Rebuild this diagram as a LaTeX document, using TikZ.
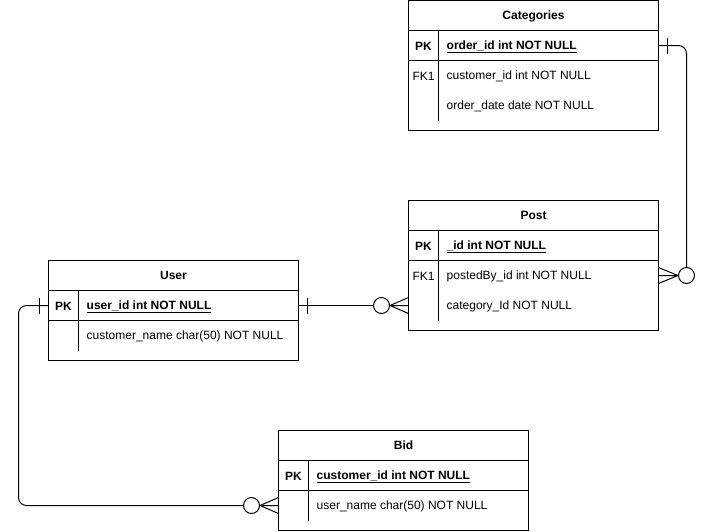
\documentclass[tikz,border=0pt]{standalone}
\usepackage{fontspec}
\setmainfont{Liberation Sans}
\usepackage{tikz}
\usetikzlibrary{positioning, calc}

\tikzset{
  tbltitle/.style={rectangle, draw, line width=1pt, minimum width=250pt, minimum height=30pt,
                   inner sep=0pt, outer sep=0pt, text height=11pt, text depth=2.6pt,
                   font=\fontsize{12}{14}\selectfont\bfseries},
  tblrow/.style={rectangle, draw, line width=1pt, minimum width=250pt, minimum height=30pt,
                 inner sep=0pt, outer sep=0pt},
  keylbl/.style={anchor=center, inner sep=0pt, yshift=-1pt, font=\fontsize{12}{14}\selectfont},
  fieldtxt/.style={anchor=west, inner sep=0pt, yshift=-1pt, font=\fontsize{12}{14}\selectfont},
  zerocirc/.style={circle, draw, line width=1pt, fill=white, minimum size=16pt, inner sep=0pt},
  rel/.style={line width=1pt}
}

\begin{document}
\begin{tikzpicture}[x=1pt, y=-1pt]
        \useasboundingbox (0,0) rectangle (708,531);

        % Tables
        \foreach \id/\title/\x/\y/\h in {cat/Categories/533.5/15.5/70pt, post/Post/533.5/215.5/70pt,
                                         user/User/173.5/275.5/40pt, bid/Bid/403.5/445.5/40pt} {
        \node[tbltitle] (\id) at (\x,\y) {\title};
        \node[tblrow, below=0pt of \id] (\id-pk) {};
        \node[tblrow, minimum height=\h, below=0pt of \id-pk] (\id-rest) {};
        \draw[line width=1pt] ([xshift=30pt]\id-pk.north west) -- ([xshift=30pt,yshift=10pt]\id-rest.south west);
        \node[keylbl, font=\fontsize{12}{14}\selectfont\bfseries] at ([xshift=15pt]\id-pk.west) {PK};
        }

        % Key fields
        \foreach \id/\text in {cat/order\_id int NOT NULL, post/\_id int NOT NULL,
                               user/user\_id int NOT NULL, bid/customer\_id int NOT NULL} {
        \node[fieldtxt, font=\fontsize{12}{14}\selectfont\bfseries] at ([xshift=38pt]\id-pk.west) {\underline{\text}};
        }

        % Other fields
        \foreach \id/\row/\fk/\text in {cat/15/FK1/customer\_id int NOT NULL, cat/45//order\_date date NOT NULL,
                                        post/15/FK1/postedBy\_id int NOT NULL, post/45//category\_Id NOT NULL,
                                        user/15//customer\_name char(50) NOT NULL, bid/15//user\_name char(50) NOT NULL} {
        \node[keylbl] at ([xshift=15pt,yshift=-\row pt]\id-rest.north west) {\fk};
        \node[fieldtxt] at ([xshift=38pt,yshift=-\row pt]\id-rest.north west) {\text};
        }

        % User -- Post
        \node[zerocirc] (o1) at (381.5,305.5) {};
        \coordinate (c1) at (post-rest.west |- o1);
        \draw[rel] (user-pk.east) -- (o1.west);
        \draw[rel] ([xshift=9pt,yshift=8pt]user-pk.east) -- ([xshift=9pt,yshift=-8pt]user-pk.east);
        \draw[rel] (o1.east) -- ([yshift=8pt]c1) (o1.east) -- (c1) (o1.east) -- ([yshift=-8pt]c1);

        % Categories -- Post
        \node[zerocirc] (o2) at (686.5,275.5) {};
        \coordinate (c2) at (post-rest.east |- o2);
        \draw[rel, rounded corners=8pt] (cat-pk.east) -| (o2.north);
        \draw[rel] ([xshift=9pt,yshift=8pt]cat-pk.east) -- ([xshift=9pt,yshift=-8pt]cat-pk.east);
        \draw[rel] (o2.west) -- ([yshift=8pt]c2) (o2.west) -- (c2) (o2.west) -- ([yshift=-8pt]c2);

        % User -- Bid
        \node[zerocirc] (o3) at (251.5,505.5) {};
        \coordinate (c3) at (bid-rest.west |- o3);
        \draw[rel, rounded corners=8pt] (user-pk.west) -- ++(-30pt,0pt) |- (o3.west);
        \draw[rel] ([xshift=-9pt,yshift=8pt]user-pk.west) -- ([xshift=-9pt,yshift=-8pt]user-pk.west);
        \draw[rel] (o3.east) -- ([yshift=8pt]c3) (o3.east) -- (c3) (o3.east) -- ([yshift=-8pt]c3);
    \end{tikzpicture}
\end{document}
